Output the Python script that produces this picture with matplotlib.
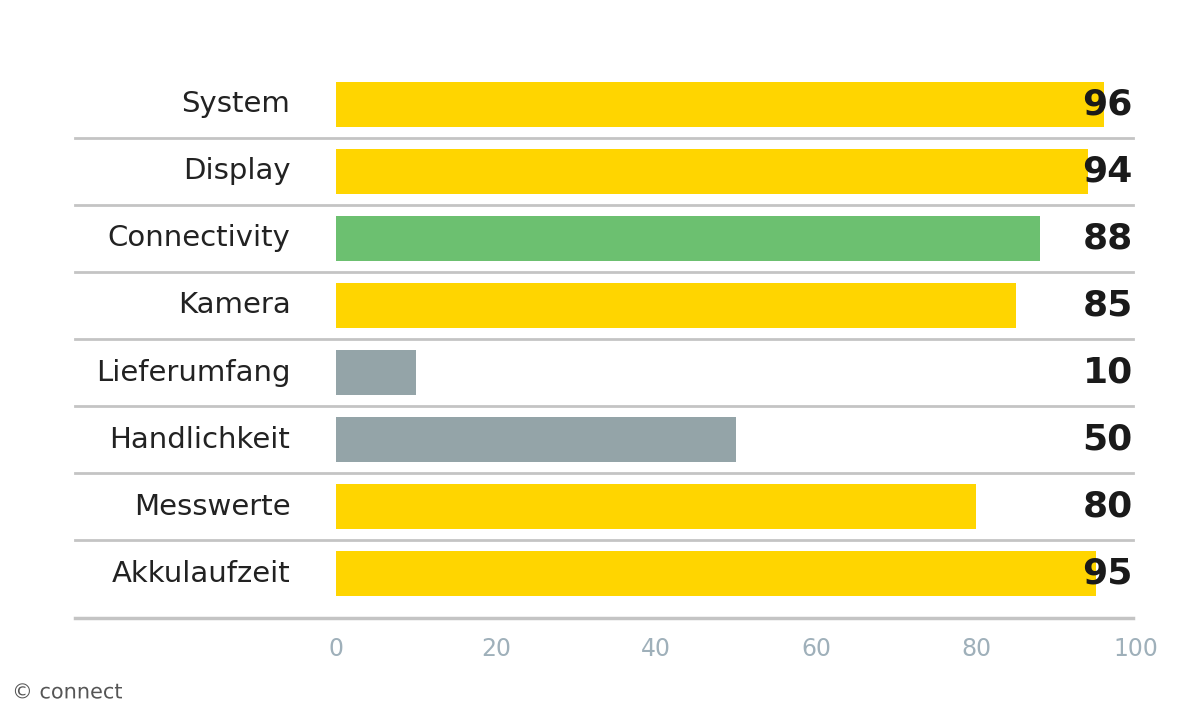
import matplotlib
matplotlib.use("Agg")
import matplotlib.pyplot as plt
import matplotlib.patheffects as pe

categories = ["System", "Display", "Connectivity", "Kamera", "Lieferumfang", "Handlichkeit", "Messwerte", "Akkulaufzeit"]
values = [96, 94, 88, 85, 10, 50, 80, 95]
colors = ["#FFD500", "#FFD500", "#6CC070", "#FFD500", "#94A4A8", "#94A4A8", "#FFD500", "#FFD500"]
ticks = [0, 20, 40, 60, 80, 100]

fam = ["Liberation Sans Narrow", "DejaVu Sans Condensed", "DejaVu Sans"]
fig = plt.figure(figsize=(12, 7.2), dpi=100)
ax = fig.add_axes([0.28, 0.1417, 0.6667, 0.760])
ys = list(range(len(categories)))
ax.barh(ys, values, height=0.67, color=colors, zorder=2)
ax.set_xlim(0, 100)
ax.set_ylim(7.66, -0.5)
for s in ax.spines.values():
    s.set_visible(False)
ax.set_yticks([])
ax.set_xticks(ticks)
ax.set_xticklabels([str(t) for t in ticks], fontfamily=fam, fontsize=17, color="#9fb0ba")
ax.tick_params(axis="x", length=0, pad=14)
for i in range(len(categories)):
    yl = i + 0.5 if i < len(categories) - 1 else 7.66
    ax.plot([-32.6, 99.6], [yl, yl], color="#c4c4c4", lw=2.5 if i == len(categories)-1 else 2, clip_on=False, zorder=1)
for y, c, v in zip(ys, categories, values):
    ax.text(-5.7, y, c, ha="right", va="center", fontfamily=fam, fontsize=21, color="#222222")
    ax.text(99.6, y, str(v), ha="right", va="center", fontfamily=fam, fontsize=26, fontweight="bold", color="#1a1a1a", zorder=3)
fig.text(0.01, 0.03, "© connect", fontfamily=fam, fontsize=15, color="#555555",
         path_effects=[pe.withStroke(linewidth=2, foreground="white")])
fig.savefig("out.png", dpi=100)
